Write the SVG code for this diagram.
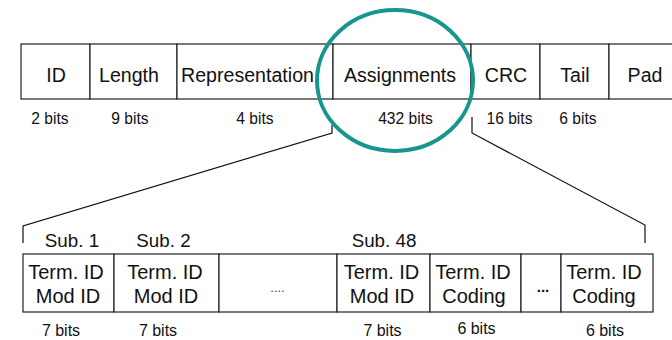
<svg xmlns="http://www.w3.org/2000/svg" width="672" height="340" viewBox="0 0 672 340">
<style>
.box{fill:#fff;stroke:#222;stroke-width:1.2}
.t{font-family:"Liberation Sans",Arial,sans-serif;fill:#111;text-anchor:middle}
.f{font-size:19.6px}
.b{font-size:15.6px}
.s{font-size:18.8px}
.c{font-size:20px}
.bb{font-size:16px}
.ln{fill:none;stroke:#111;stroke-width:1.2}
</style>
<rect width="672" height="340" fill="#fff"/>
<g id="top-row">
  <g id="f-id"><rect class="box" x="21" y="44" width="69" height="55"/><text class="t f" x="56" y="81.5">ID</text></g>
  <g id="f-length"><rect class="box" x="90" y="44" width="87" height="55"/><text class="t f" x="129" y="81.5">Length</text></g>
  <g id="f-rep"><rect class="box" x="177" y="44" width="156" height="55"/><text class="t f" x="247.5" y="81.5">Representation</text></g>
  <g id="f-assign"><rect class="box" x="333" y="44" width="138" height="55"/><text class="t f" x="400" y="81.5">Assignments</text></g>
  <g id="f-crc"><rect class="box" x="471" y="44" width="69" height="55"/><text class="t f" x="506" y="81.5">CRC</text></g>
  <g id="f-tail"><rect class="box" x="540" y="44" width="69" height="55"/><text class="t f" x="575" y="81.5">Tail</text></g>
  <g id="f-pad"><rect class="box" x="609" y="44" width="70" height="55"/><text class="t f" x="645" y="81.5">Pad</text></g>
</g>
<g id="top-bits">
  <text class="t b" x="50" y="124">2 bits</text>
  <text class="t b" x="130" y="124">9 bits</text>
  <text class="t b" x="255" y="124">4 bits</text>
  <text class="t b" x="405.5" y="124">432 bits</text>
  <text class="t b" x="509.5" y="124">16 bits</text>
  <text class="t b" x="578" y="124">6 bits</text>
</g>
<g id="connectors">
  <polyline class="ln" points="332,125 332,133 23,226 23,243"/>
  <polyline class="ln" points="472,117 472,133 645,225 645,243"/>
</g>
<g id="highlight">
  <ellipse cx="395" cy="80.5" rx="78" ry="70.5" fill="none" stroke="#17968e" stroke-width="4"/>
</g>
<g id="sub-labels">
  <text class="t s" x="72" y="247">Sub. 1</text>
  <text class="t s" x="163.5" y="247">Sub. 2</text>
  <text class="t s" x="384" y="247">Sub. 48</text>
</g>
<g id="bottom-row">
  <g id="s1"><rect class="box" x="23" y="254" width="91" height="58"/><text class="t c" x="66" y="279">Term. ID</text><text class="t c" x="68" y="303">Mod ID</text></g>
  <g id="s2"><rect class="box" x="114" y="254" width="105" height="58"/><text class="t c" x="165" y="279">Term. ID</text><text class="t c" x="166" y="303">Mod ID</text></g>
  <g id="s-gap"><rect class="box" x="219" y="254" width="118" height="58"/><text class="t" x="277.5" y="292" style="font-size:13px;fill:#444">....</text></g>
  <g id="s48"><rect class="box" x="337" y="254" width="93" height="58"/><text class="t c" x="381.5" y="279">Term. ID</text><text class="t c" x="382" y="303">Mod ID</text></g>
  <g id="c1"><rect class="box" x="430" y="254" width="91" height="58"/><text class="t c" x="473" y="279">Term. ID</text><text class="t c" x="474" y="303">Coding</text></g>
  <g id="c-gap"><rect class="box" x="521" y="254" width="40" height="58"/><text class="t" x="543" y="292" style="font-size:15px;font-weight:bold">...</text></g>
  <g id="cn"><rect class="box" x="561" y="254" width="92" height="58"/><text class="t c" x="604" y="279">Term. ID</text><text class="t c" x="604" y="303">Coding</text></g>
</g>
<g id="bottom-bits">
  <text class="t bb" x="61" y="336">7 bits</text>
  <text class="t bb" x="158" y="336">7 bits</text>
  <text class="t bb" x="382.5" y="336">7 bits</text>
  <text class="t bb" x="476.5" y="334">6 bits</text>
  <text class="t bb" x="605" y="336">6 bits</text>
</g>
</svg>
